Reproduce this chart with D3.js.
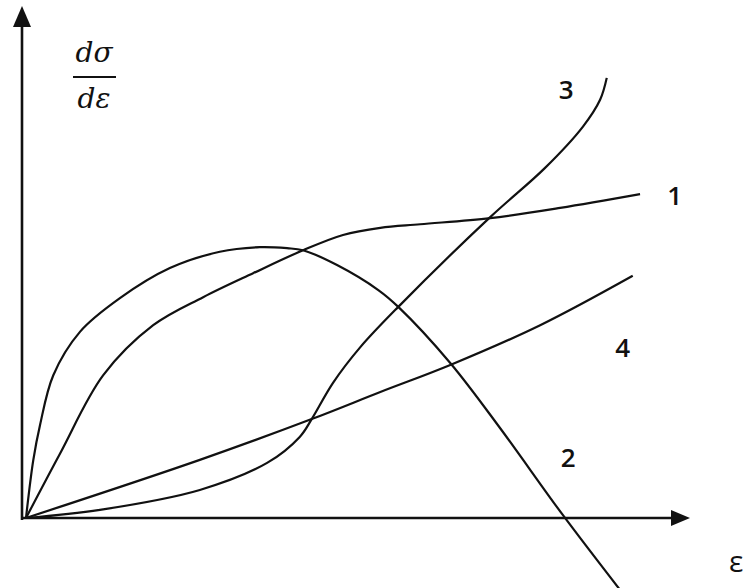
<!DOCTYPE html>
<html>
<head>
<meta charset="utf-8">
<script src="https://cdn.jsdelivr.net/npm/d3@7"></script>
<style>
  body { margin: 0; background: #fff; }
</style>
</head>
<body>
<div id="chart"></div>
<script>
// curves, in arbitrary units (strain 0-100, slope 0-100)
var curve1 = [[0.3, 0], [5.4, 12.6], [11.9, 28.0], [19.4, 37.8], [26.9, 43.3], [34.4, 48.0],
              [41.9, 52.5], [47.9, 55.5], [53.5, 56.9], [59.5, 57.6], [70.0, 58.8],
              [80.5, 60.8], [92.5, 63.5]];
var curve2 = [[0.3, 0], [1.4, 11.4], [2.4, 18.2], [4.4, 28.0], [8.4, 36.5], [14.4, 43.1],
              [21.9, 49.0], [29.4, 52.2], [35.4, 53.1], [39.5, 52.9], [41.9, 52.5],
              [47.0, 49.6], [53.2, 44.7], [56.2, 41.4], [64.0, 30.4], [71.5, 17.6],
              [80.9, 0.6], [89.5, -14.1]];
var curve3 = [[0.3, 0], [11.4, 1.6], [26.4, 5.5], [36.5, 10.8], [41.4, 15.9], [43.2, 19.4],
              [46.4, 26.5], [50.5, 33.5], [56.2, 41.4], [70.0, 59.0], [78.2, 68.6],
              [83.9, 76.7], [86.5, 82.0], [87.5, 86.3]];
var curve4 = [[0.3, 0], [26.4, 11.4], [43.2, 19.4], [53.5, 24.7], [64.0, 30.0],
              [77.5, 37.8], [91.4, 47.5]];

var curveNames = ["1", "2", "3", "4"];
var labelPos = [[97.7, 63.1], [81.7, 11.8], [81.4, 83.9], [89.9, 33.3]];

var svgWidth = 744;
var svgHeight = 588;

var svg = d3.select("#chart")
  .append("svg")
  .attr("width", svgWidth)
  .attr("height", svgHeight);

var x = d3.scaleLinear().domain([0, 100]).range([24, 690]);
var y = d3.scaleLinear().domain([0, 100]).range([518, 8]);

var ink = "#111";

// axes with arrow heads
var x0 = 22, y0 = y(0);
svg.append("line")
  .attr("x1", x0).attr("y1", y0 + 2)
  .attr("x2", x0).attr("y2", y.range()[1] + 14)
  .attr("stroke", ink).attr("stroke-width", 2.6);
svg.append("line")
  .attr("x1", x0 - 1).attr("y1", y0)
  .attr("x2", x.range()[1] - 12).attr("y2", y0)
  .attr("stroke", ink).attr("stroke-width", 2.6);

svg.append("path")
  .attr("d", `M${x0},${y.range()[1] - 2} L${x0 - 9},${y.range()[1] + 19} L${x0 + 9},${y.range()[1] + 19} Z`)
  .attr("fill", ink);
svg.append("path")
  .attr("d", `M${x.range()[1]},${y0} L${x.range()[1] - 19},${y0 - 8} L${x.range()[1] - 19},${y0 + 8} Z`)
  .attr("fill", ink);

// curves
var line = d3.line()
  .x(d => x(d[0]))
  .y(d => y(d[1]))
  .curve(d3.curveCatmullRom.alpha(0.5));

[curve1, curve2, curve3, curve4].forEach(function(c) {
  svg.append("path")
    .datum(c)
    .attr("d", line)
    .attr("fill", "none")
    .attr("stroke", ink)
    .attr("stroke-width", 2.2);
});

// curve numbers
svg.append("g")
  .selectAll("text")
  .data(curveNames)
  .enter()
  .append("text")
  .attr("x", (d, i) => x(labelPos[i][0]))
  .attr("y", (d, i) => y(labelPos[i][1]) + 9)
  .attr("text-anchor", "middle")
  .attr("font-family", "'Open Sans', sans-serif")
  .attr("font-weight", 600)
  .attr("font-size", "26px")
  .attr("fill", ink)
  .text(d => d);

// axis titles
svg.append("text")
  .attr("x", x.range()[1] + 39)
  .attr("y", y0 + 54)
  .attr("font-family", "'Open Sans', sans-serif")
  .attr("font-size", "30px")
  .attr("fill", ink)
  .text("ε");

var frac = svg.append("g")
  .attr("font-family", "'DejaVu Serif', serif")
  .attr("font-style", "italic")
  .attr("font-size", "28px")
  .attr("fill", ink)
  .attr("text-anchor", "middle");
frac.append("text").attr("x", 94).attr("y", 62).text("dσ");
frac.append("line")
  .attr("x1", 73).attr("x2", 116)
  .attr("y1", 77).attr("y2", 77)
  .attr("stroke", ink).attr("stroke-width", 2.2);
frac.append("text").attr("x", 94).attr("y", 108).text("dε");
</script>
</body>
</html>
